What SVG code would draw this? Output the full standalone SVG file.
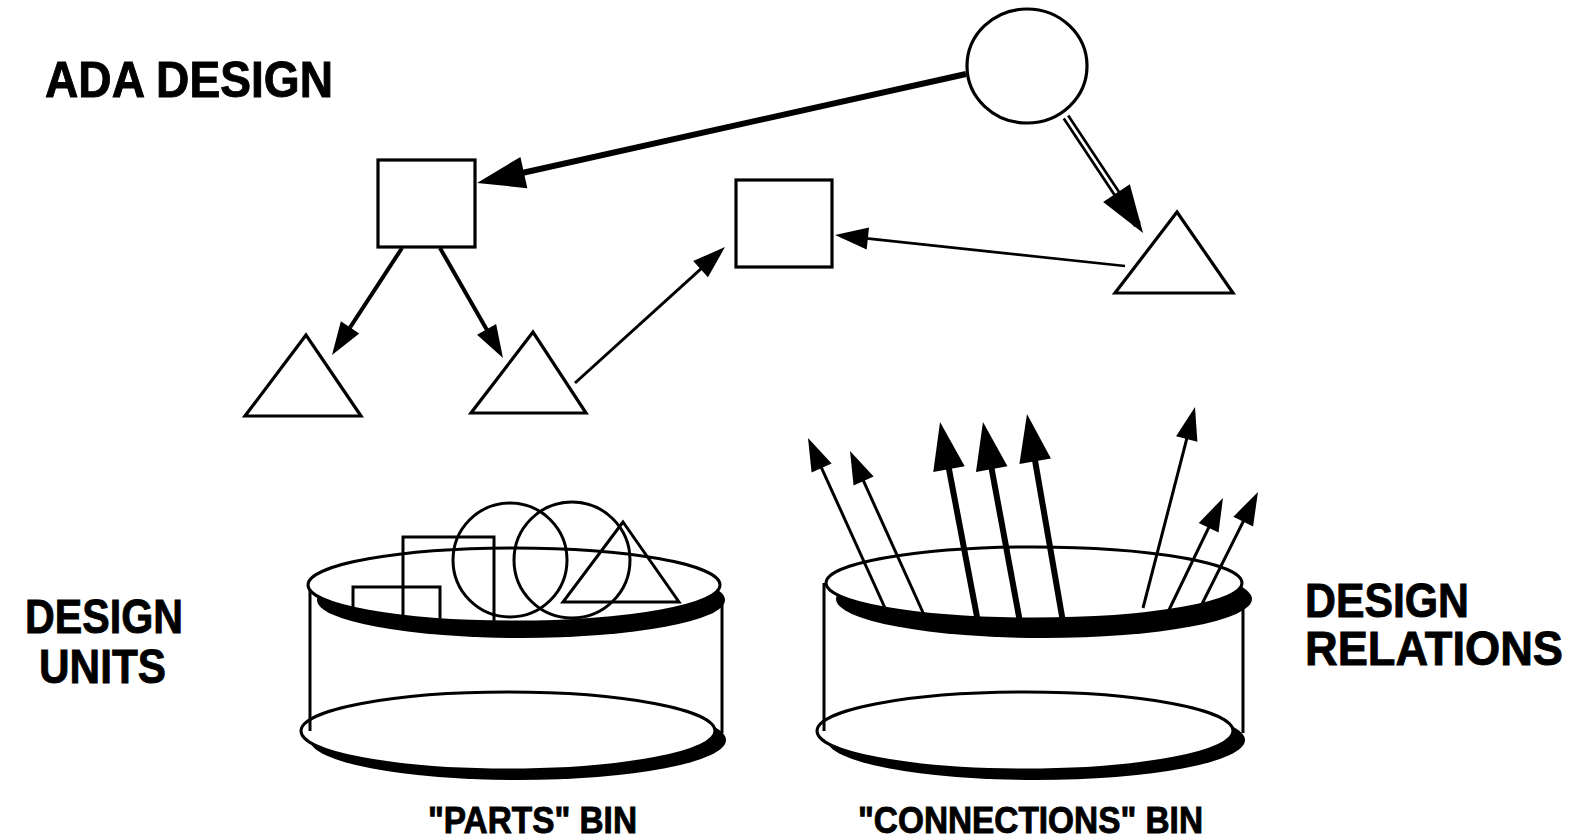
<svg xmlns="http://www.w3.org/2000/svg" width="1582" height="838" viewBox="0 0 1582 838">
  <style>
    .shape { fill: #fff; stroke: #000; stroke-width: 3.2; stroke-linejoin: miter; }
    .outline { fill: none; stroke: #000; stroke-width: 3; }
    .rim { fill: #fff; stroke: #000; stroke-width: 3; }
    .shadow { fill: #000; stroke: none; }
    .side { stroke: #000; stroke-width: 3; fill: none; }
    .link { fill: none; stroke: #000; stroke-linecap: butt; }
    .thin { stroke-width: 3; }
    .mid { stroke-width: 4; }
    .heavy { stroke-width: 6; }
    .label { font-family: "Liberation Sans", Arial, sans-serif; font-weight: bold; fill: #000; stroke: #000; stroke-width: 0.9; }
  </style>
  <defs>
    <!-- arrowheads: tip at x=L, reference point sits a little behind the tip -->
    <marker id="head-lg" markerUnits="userSpaceOnUse" markerWidth="60" markerHeight="40" viewBox="0 -20 60 40" refX="38" refY="0" orient="auto" overflow="visible">
      <path d="M0,-16 L48,0 L0,16 Z" fill="#000"/>
    </marker>
    <marker id="head-md" markerUnits="userSpaceOnUse" markerWidth="40" markerHeight="30" viewBox="0 -15 40 30" refX="25" refY="0" orient="auto" overflow="visible">
      <path d="M0,-11 L33,0 L0,11 Z" fill="#000"/>
    </marker>
    <clipPath id="parts-inside">
      <rect x="290" y="480" width="450" height="105"/>
      <ellipse cx="514" cy="585" rx="205" ry="36"/>
    </clipPath>
  </defs>

  <rect width="1582" height="838" fill="#fff"/>

  <!-- connectors of the design graph -->
  <g id="connectors">
    <line class="link" stroke-width="6" x1="966" y1="74" x2="486.8" y2="180.8" marker-end="url(#head-lg)"/>
    <line class="link" stroke-width="8" x1="1066" y1="117" x2="1137.5" y2="224.7" marker-end="url(#head-lg)"/>
    <line class="link" stroke-width="2.6" x1="1064" y1="114" x2="1116.5" y2="193" style="stroke:#fff"/>
    <line class="link mid" x1="402" y1="248" x2="336.4" y2="348.3" marker-end="url(#head-md)"/>
    <line class="link mid" x1="440" y1="248" x2="499" y2="351.1" marker-end="url(#head-md)"/>
    <line class="link thin" x1="575" y1="383" x2="719.1" y2="252.4" marker-end="url(#head-md)"/>
    <line class="link" stroke-width="2.6" x1="1125" y1="266" x2="843" y2="235.9" marker-end="url(#head-md)"/>
  </g>

  <g id="unit-circle">
    <ellipse class="shape" cx="1027" cy="66" rx="60" ry="57"/>
  </g>
  <g id="unit-square-a">
    <rect class="shape" x="378" y="160" width="97" height="87"/>
  </g>
  <g id="unit-square-b">
    <rect class="shape" x="736" y="180" width="96" height="87"/>
  </g>
  <g id="unit-triangle-a">
    <polygon class="shape" points="306,335 245,416 361,416"/>
  </g>
  <g id="unit-triangle-b">
    <polygon class="shape" points="533,332 471,413 586,413"/>
  </g>
  <g id="unit-triangle-c">
    <polygon class="shape" points="1177,212 1115,293 1233,293"/>
  </g>

  <!-- parts bin -->
  <g id="parts-bin">
    <ellipse class="shadow" cx="518" cy="740" rx="208" ry="40"/>
    <ellipse class="rim" cx="508" cy="731" rx="207" ry="39"/>
    <line class="side" x1="310" y1="585" x2="310" y2="731"/>
    <line class="side" x1="722" y1="598" x2="722" y2="733"/>
    <ellipse class="shadow" cx="521" cy="600" rx="204" ry="38"/>
    <ellipse class="rim" cx="514" cy="585" rx="206" ry="37"/>
    <g clip-path="url(#parts-inside)">
      <rect class="outline" x="403" y="537" width="91" height="100"/>
      <rect class="outline" x="353" y="587" width="87" height="50"/>
      <circle class="outline" cx="510" cy="560" r="57"/>
      <circle class="outline" cx="572" cy="560" r="58"/>
      <polygon class="outline" stroke-width="3.6" points="623,522 563,602 679,602"/>
    </g>
  </g>

  <!-- connections bin -->
  <g id="connections-bin">
    <ellipse class="shadow" cx="1036" cy="740" rx="209" ry="40"/>
    <ellipse class="rim" cx="1025" cy="731" rx="208" ry="39"/>
    <line class="side" x1="824" y1="583" x2="824" y2="731"/>
    <line class="side" x1="1243" y1="598" x2="1243" y2="733"/>
    <ellipse class="shadow" cx="1044" cy="599" rx="208" ry="39"/>
    <ellipse class="rim" cx="1034" cy="583" rx="208" ry="36"/>
    <g id="relation-arrows">
      <line class="link thin" x1="885" y1="608" x2="811.3" y2="445.3" marker-end="url(#head-md)"/>
      <line class="link thin" x1="925" y1="617" x2="853.3" y2="458.3" marker-end="url(#head-md)"/>
      <line class="link heavy" x1="978" y1="622" x2="941.9" y2="431.8" marker-end="url(#head-lg)"/>
      <line class="link heavy" x1="1020" y1="622" x2="984.8" y2="431.8" marker-end="url(#head-lg)"/>
      <line class="link heavy" x1="1063" y1="622" x2="1028.7" y2="423.9" marker-end="url(#head-lg)"/>
      <line class="link thin" x1="1143" y1="608" x2="1193" y2="414.7" marker-end="url(#head-md)"/>
      <line class="link thin" x1="1168" y1="612" x2="1219.5" y2="505.2" marker-end="url(#head-md)"/>
      <line class="link thin" x1="1202" y1="604" x2="1254.4" y2="499.2" marker-end="url(#head-md)"/>
    </g>
  </g>

  <g id="labels">
    <text class="label" x="45" y="97" font-size="50" textLength="288" lengthAdjust="spacingAndGlyphs">ADA DESIGN</text>
    <text class="label" x="25" y="633" font-size="48" textLength="158" lengthAdjust="spacingAndGlyphs">DESIGN</text>
    <text class="label" x="39" y="683" font-size="48" textLength="127" lengthAdjust="spacingAndGlyphs">UNITS</text>
    <text class="label" x="1305" y="617" font-size="48" textLength="164" lengthAdjust="spacingAndGlyphs">DESIGN</text>
    <text class="label" x="1305" y="665" font-size="48" textLength="258" lengthAdjust="spacingAndGlyphs">RELATIONS</text>
    <text class="label" x="428" y="833" font-size="36" textLength="209" lengthAdjust="spacingAndGlyphs">"PARTS" BIN</text>
    <text class="label" x="858" y="833" font-size="36" textLength="345" lengthAdjust="spacingAndGlyphs">"CONNECTIONS" BIN</text>
  </g>
</svg>
